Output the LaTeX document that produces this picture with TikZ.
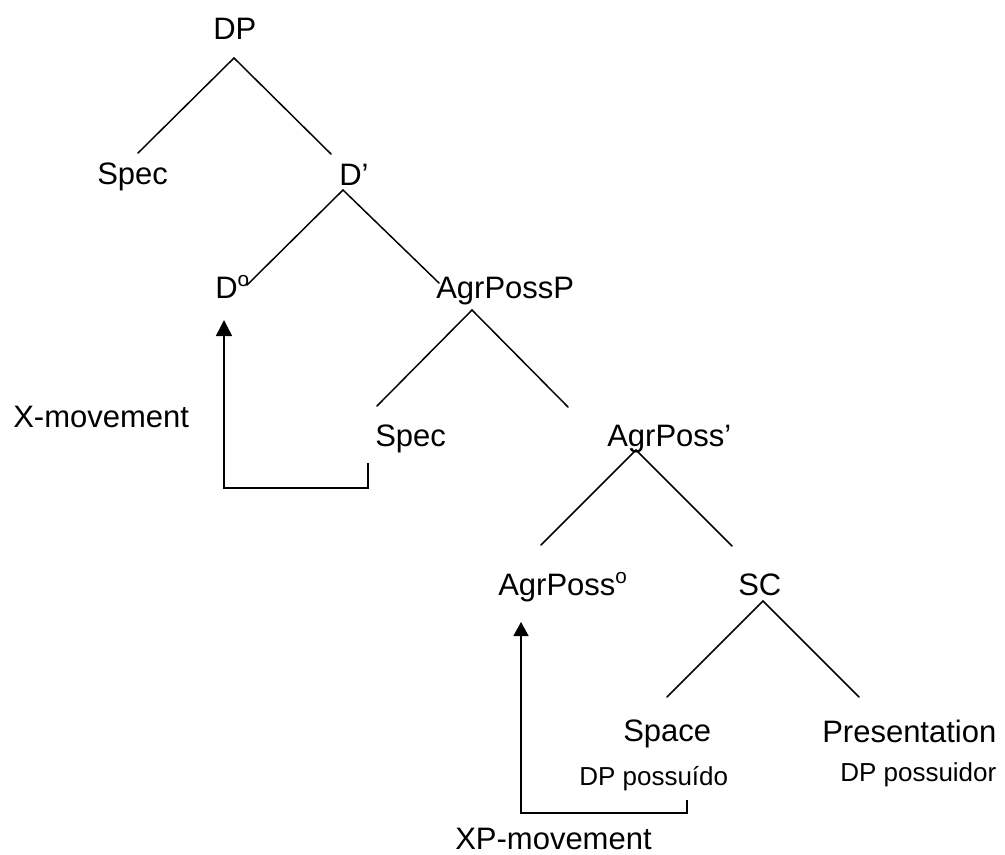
\documentclass[tikz,border=0pt]{standalone}
\usepackage{fontspec}
\setmainfont{Liberation Sans}
\usetikzlibrary{arrows.meta}
% label sizes for the tree: category labels and the small glosses
\newcommand\lblfont{\fontsize{23.25}{28}\selectfont}
\newcommand\notefont{\fontsize{19.5}{23}\selectfont}
% raised small "o" used for head categories
\newcommand\headmark{\raisebox{0.36em}{\fontsize{15.5}{15.5}\selectfont o}}
\begin{document}
\begin{tikzpicture}[x=0.75pt,y=-0.75pt,
  cat/.style={anchor=base west,inner sep=0pt,font=\lblfont},
  gloss/.style={anchor=base west,inner sep=0pt,font=\notefont},
  branch/.style={line width=1.1pt,line cap=round},
  movearrow/.style={line width=1.1pt}]
\useasboundingbox (0,0) rectangle (1005,854);

% category labels
\node[cat] (dp)     at (213,39)  {DP};
\node[cat] (spec1)  at (97,184)  {Spec};
\node[cat] (dbar)   at (339,185) {D’};
\node[cat] (dzero)  at (215,298) {D\headmark};
\node[cat] (agrpp)  at (436,298) {AgrPossP};
\node[cat] (spec2)  at (375,446) {Spec};
\node[cat] (agrbar) at (607,446) {AgrPoss’};
\node[cat] (agrzero) at (498,595) {AgrPoss\headmark};
\node[cat] (sc)     at (738,595) {SC};
\node[cat] (space)  at (623,741) {Space};
\node[cat] (pres)   at (822,742) {Presentation};
\node[gloss] (possd) at (579,785) {DP possuído};
\node[gloss] (possr) at (840,781) {DP possuidor};
\node[cat] (xmove)  at (13,427)  {X-movement};
\node[cat] (xpmove) at (455,849) {XP-movement};

% branch points and branch ends
\coordinate (dpTop)     at (234,58);
\coordinate (dpL)       at (138,153);
\coordinate (dpR)       at (331,154);
\coordinate (dbarTop)   at (343,190);
\coordinate (dbarL)     at (247,285);
\coordinate (dbarR)     at (439,283);
\coordinate (agrppTop)  at (472,310);
\coordinate (agrppL)    at (377,406);
\coordinate (agrppR)    at (568,407);
\coordinate (agrbarTop) at (636,450);
\coordinate (agrbarL)   at (541,545);
\coordinate (agrbarR)   at (732,546);
\coordinate (scTop)     at (763,601);
\coordinate (scL)       at (667,697);
\coordinate (scR)       at (859,697);

\draw[branch] (dpL) -- (dpTop) -- (dpR);
\draw[branch] (dbarL) -- (dbarTop) -- (dbarR);
\draw[branch] (agrppL) -- (agrppTop) -- (agrppR);
\draw[branch] (agrbarL) -- (agrbarTop) -- (agrbarR);
\draw[branch] (scL) -- (scTop) -- (scR);

% movement paths
\coordinate (xStart)  at (368,463);
\coordinate (xTip)    at (224,320);
\coordinate (xpStart) at (687,800);
\coordinate (xpTip)   at (521,622);

\draw[movearrow,-{Triangle[width=12pt,length=12pt]}]
  (xStart) -- ++(0,25) -| (xTip);
\draw[movearrow,-{Triangle[width=11.25pt,length=10.5pt]}]
  (xpStart) -- ++(0,13) -| (xpTip);
\end{tikzpicture}
\end{document}
